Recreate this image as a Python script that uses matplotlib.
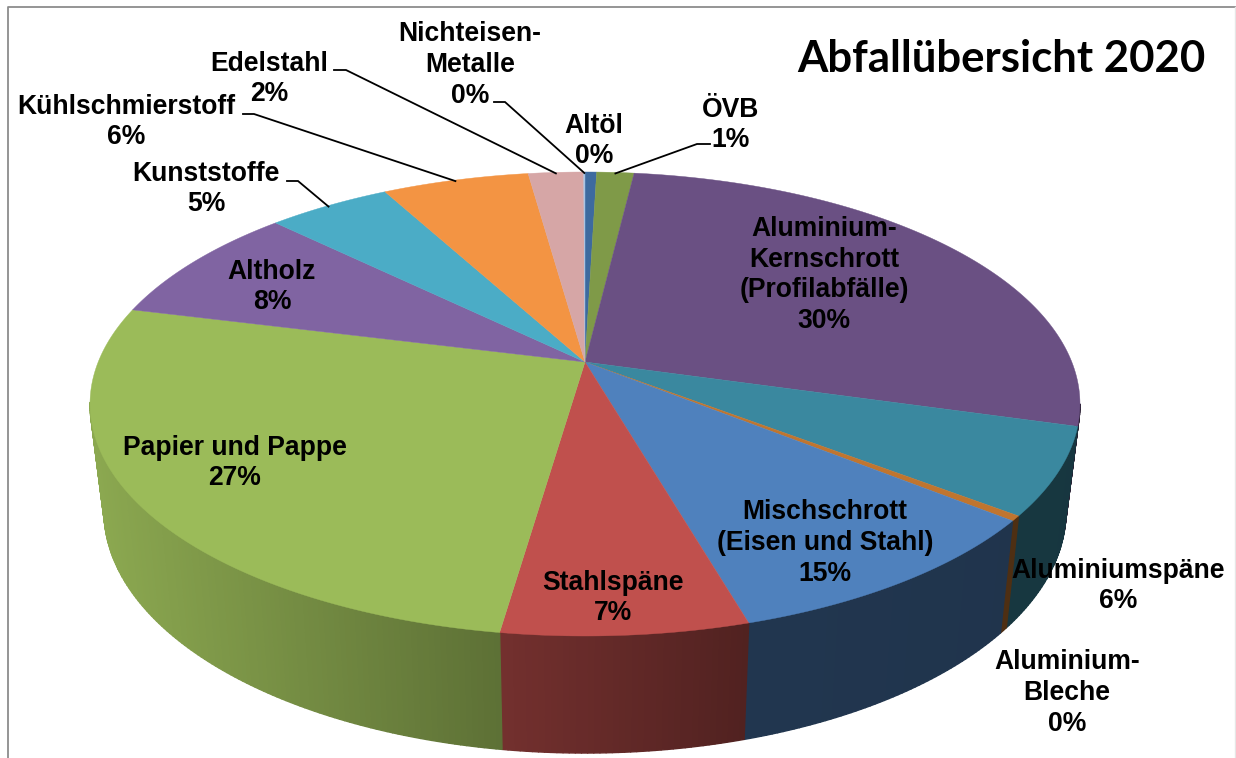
import numpy as np
import matplotlib
matplotlib.use('Agg')
import matplotlib.pyplot as plt
from matplotlib.collections import PolyCollection
from matplotlib.patches import Polygon

# anteile so wie sie im bild zu sehen sind (die beschriftung summiert nicht auf 100)
namen = ['Altöl', 'ÖVB', 'Aluminium-\nKernschrott\n(Profilabfälle)', 'Aluminiumspäne',
         'Aluminium-\nBleche', 'Mischschrott\n(Eisen und Stahl)', 'Stahlspäne',
         'Papier und Pappe', 'Altholz', 'Kunststoffe', 'Kühlschmierstoff', 'Edelstahl',
         'Nichteisen-\nMetalle']
anteile = [0.45, 1.45, 27.5, 6.05, 0.35, 9.72, 6.78, 26.6, 8.4, 4.8, 5.7, 2.15, 0.05]
prozent = ['0%', '1%', '30%', '6%', '0%', '15%', '7%', '27%', '8%', '5%', '6%', '2%', '0%']
farben = ['#3D6A9F', '#7F9A48', '#6A5083', '#3A889F', '#C0752F', '#4F81BD', '#C0504D',
          '#9BBB59', '#8064A2', '#4BACC6', '#F39443', '#D6A6A6', '#A9C4E4']

titel = 'Abfallübersicht 2020'

# textpositionen (mitte, pixel)
text_pos = [(594, 141), (731, 125), (824, 275), (1118, 586), (1067, 693), (825, 543), (613, 598),
            (235, 463), (272, 287), (206, 189), (126, 122), (269, 79), (470, 65)]

# knick der fuehrungslinien: wedge index -> (von, bis)
fuehrung = {1: ((710, 144), (697, 144)),
            9: ((287, 181), (298, 181)),
            10: ((243, 114), (254, 114)),
            11: ((334, 70), (346, 70)),
            12: ((494, 102), (505, 102))}

# perspektive der kreisscheibe
CX, Y0 = 585, 362
A, B, K = 486.8, 224.4, 0.181
# ellipsen oben und unten
CY_O, RX_O, RY_O = 403, 495, 232
CY_U, RX_U, RY_U = 510, 481, 242


def rand_oben(frac):
    # frac: 0..1 im uhrzeigersinn ab 12 uhr
    t = 2 * np.pi * np.asarray(frac)
    u, v = np.sin(t), np.cos(t)
    w = 1 + K * v
    return CX + A * u / w, Y0 - B * v / w


def rand_unten(frac):
    x, y = rand_oben(frac)
    nx = (x - CX) / RX_O
    ny = (y - CY_O) / RY_O
    return CX + nx * RX_U, CY_U + ny * RY_U


def schatten(x):
    nx = (x - CX) / RX_O
    return np.interp(nx, [-1, -0.17, 0.33, 1], [0.90, 0.60, 0.42, 0.40])


fig = plt.figure(figsize=(12.36, 7.58), dpi=100)
ax = fig.add_axes([0, 0, 1, 1])
ax.set_xlim(0, 1236)
ax.set_ylim(758, 0)
ax.axis('off')

# rahmen
ax.plot([8, 8, 1236], [758, 6.5, 6.5], color='#8c8c8c', lw=1.3, zorder=1)
ax.plot([1235, 1235], [6.5, 758], color='#e6e6e6', lw=1, zorder=1)

grenzen = np.concatenate([[0], np.cumsum(anteile)]) / np.sum(anteile)

# seitenwand zuerst, hintere haelfte ist verdeckt und wird weggelassen
for i, farbe in enumerate(farben):
    n = max(2, int(anteile[i] * 6))
    f = np.linspace(grenzen[i], grenzen[i + 1], n + 1)
    xo, yo = rand_oben(f)
    xu, yu = rand_unten(f)
    basis = np.array(matplotlib.colors.to_rgb(farbe))
    quads, cols = [], []
    for j in range(n):
        if (yo[j] + yo[j + 1]) / 2 < CY_O:
            continue
        quads.append([(xo[j], yo[j]), (xo[j + 1], yo[j + 1]), (xu[j + 1], yu[j + 1]), (xu[j], yu[j])])
        cols.append(basis * schatten((xo[j] + xo[j + 1]) / 2))
    if quads:
        ax.add_collection(PolyCollection(quads, facecolors=cols, edgecolors=cols, linewidths=1.0, zorder=2))

# deckel
for i, farbe in enumerate(farben):
    f = np.linspace(grenzen[i], grenzen[i + 1], max(2, int(anteile[i] * 6)) + 1)
    xo, yo = rand_oben(f)
    punkte = [(CX, Y0)] + list(zip(xo, yo))
    ax.add_patch(Polygon(punkte, closed=True, facecolor=farbe, edgecolor=farbe, lw=0.3, zorder=3))

# fuehrungslinien
for i, (von, bis) in fuehrung.items():
    ex, ey = rand_oben((grenzen[i] + grenzen[i + 1]) / 2)
    ax.plot([von[0], bis[0], ex], [von[1], bis[1], ey + 1], color='black', lw=1.3, zorder=4,
            solid_joinstyle='miter')

# beschriftung
for name, p, pos in zip(namen, prozent, text_pos):
    ax.text(pos[0], pos[1], name + '\n' + p, ha='center', va='center', ma='center',
            fontsize=19.1, fontweight='bold', family='Liberation Sans', linespacing=1.245,
            color='black', zorder=5)

ax.text(1001, 59, titel, ha='center', va='center', fontsize=31.5, fontweight='bold',
        family='Lato', color='black', zorder=5)

fig.savefig('out.png', dpi=100, facecolor='white')
